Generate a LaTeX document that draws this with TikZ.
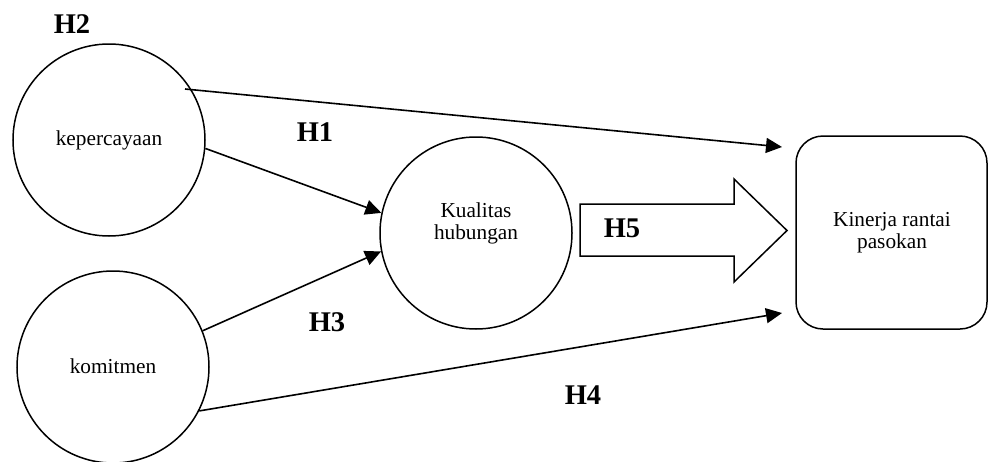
\documentclass[tikz,border=0pt]{standalone}
\usepackage{fontspec}
\setmainfont{Liberation Serif}
\usetikzlibrary{arrows.meta}
\begin{document}
\begin{tikzpicture}[x=1pt,y=-1pt,
  txt/.style={font=\fontsize{21.3}{22}\selectfont, align=center, inner sep=0pt},
  hlab/.style={font=\fontsize{28.5}{30}\selectfont\bfseries, inner sep=0pt},
  circ/.style={draw, circle, line width=1.5pt, minimum size=192pt, inner sep=0pt},
  conn/.style={line width=1.6pt, -{Triangle[length=16pt,width=15pt]}},
  bigarrow/.style={draw, line width=1.5pt, line join=miter}]
\useasboundingbox (0,0) rectangle (988,461);
% nodes
\node[circ] (kep) at (109,140) {};
\node[txt] (keptxt) at (109,140) {kepercayaan};
\node[circ] (kom) at (113,367) {};
\node[txt] (komtxt) at (113,366) {komitmen};
\node[circ] (kual) at (476,233) {};
\node[txt] (kualtxt) at (476,223) {Kualitas\\hubungan};
\node[draw, line width=1.5pt, rounded corners=27pt, minimum width=191pt, minimum height=193pt] (kin) at (891.5,232.5) {};
\node[txt] (kintxt) at (892,233) {Kinerja rantai\\pasokan};
% connector end points
\coordinate (s2) at (185,89);
\coordinate (t2) at (782,147);
\coordinate (t4) at (782,313);
% connectors
\draw[conn] (s2) -- (t2);
\draw[conn] (kep.-5) -- (kual.168);
\draw[conn] (kom.22) -- (kual.191);
\draw[conn] (kom.-27.6) -- (t4);
% big arrow H5
\draw[bigarrow] (580,204) -- (734,204) -- (734,179) -- (787,230.5) -- (734,282) -- (734,256) -- (580,256) -- cycle;
% labels
\node[hlab] (h2) at (72,24) {H2};
\node[hlab] (h1) at (315,132) {H1};
\node[hlab] (h3) at (327,322) {H3};
\node[hlab] (h4) at (583,395) {H4};
\node[hlab] (h5) at (622,228) {H5};
\end{tikzpicture}
\end{document}
